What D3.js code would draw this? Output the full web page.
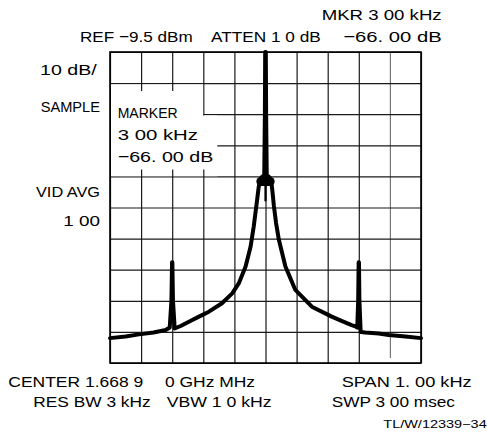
<!DOCTYPE html>
<html>
<head>
<meta charset="utf-8">
<script src="https://cdn.jsdelivr.net/npm/d3@7"></script>
<style>
  html, body { margin: 0; padding: 0; background: #fff; }
  svg { display: block; }
  text { font-family: "Liberation Sans", Arial, sans-serif; fill: #000; }
</style>
</head>
<body>
<script>
// ---- data ----
const gridHz = [-500, -400, -300, -200, -100, 0, 100, 200, 300, 400, 500];
const gridDb = [-100, -90, -80, -70, -60, -50, -40, -30, -20, -10, 0];

// spectrum trace: frequency offset from center (Hz) and level (dB rel. REF)
const traceHz = [-500, -450, -407, -360, -321, -308, -302.5, -300.5, -299.5, -297.5, -292, -273, -240, -214, -182, -140, -107, -86, -64, -48, -38, -27, -22, -18, -12, -4, -2, -1,
                 1, 2, 4, 12, 18, 22, 27, 34, 43, 64, 96, 149, 213, 250, 277, 289, 295, 298, 299.5, 300.5, 302, 306, 321, 364, 396, 450, 500];
const traceDb = [-92.0, -91.5, -90.8, -90.2, -89.4, -88.6, -80, -67.6, -67.6, -80, -88.9, -88.1, -86.4, -85.1, -83.5, -80.8, -77.6, -74.4, -69.0, -62.6, -56.2, -47.6, -43.5, -41.2, -40.2, -39.6, -20, 0,
                 0, -20, -39.6, -40.2, -41.2, -44.5, -49.5, -55, -60.4, -69.0, -76.5, -81.9, -85.1, -86.7, -87.8, -88.2, -88.6, -80, -67.6, -67.6, -80, -90.0, -90.2, -90.5, -91.0, -91.5, -92.0];

// carrier cap (blob on top of the skirt) and the short center prong
const carrierCapHz = [-15, 15];
const carrierCapDb = [-41.6, -41.6];
const carrierProngHz = [0, 0];
const carrierProngDb = [-41, -48];

// marker readout box corners (Hz, dB)
const markerBoxHz = [-500, -200, -155];
const markerBoxDb = [-10, -20, -40];
const markerStubHz = [-400, -300, -200];

// texts
const headerTexts = ["MKR 3 00 kHz", "REF \u22129.5 dBm", "ATTEN 1 0 dB", "\u221266. 00 dB"];
const leftTexts = ["10 dB/", "SAMPLE", "VID AVG", "1 00"];
const markerTexts = ["MARKER", "3 00 kHz", "\u221266. 00 dB"];
const footerTexts = ["CENTER 1.668 9", "0 GHz MHz", "SPAN 1. 00 kHz", "RES BW 3 kHz", "VBW 1 0 kHz", "SWP 3 00 msec"];
const figureId = "TL/W/12339\u221234";

// ---- drawing ----
const W = 487, H = 435;
const svg = d3.select("body").append("svg").attr("width", W).attr("height", H);
svg.append("rect").attr("width", W).attr("height", H).attr("fill", "#fff");

const x = d3.scaleLinear().domain([-500, 500]).range([110, 421]);
const y = d3.scaleLinear().domain([-100, 0]).range([363, 52]);
const plotW = x(500) - x(-500), plotH = y(-100) - y(0);

// grid via axes
const gx = svg.append("g").attr("transform", `translate(0,${y(-100)})`)
  .call(d3.axisBottom(x).tickValues(gridHz).tickSize(-plotH).tickFormat(""));
gx.select(".domain").remove();
gx.selectAll(".tick line").attr("stroke", "#1a1a1a").attr("stroke-width", 1.2);
gx.selectAll(".tick").filter(d => d === 400).select("line")
  .attr("stroke", "#777").attr("y1", -5);

const gy = svg.append("g").attr("transform", `translate(${x(-500)},0)`)
  .call(d3.axisLeft(y).tickValues(gridDb).tickSize(-plotW).tickFormat(""));
gy.select(".domain").remove();
gy.selectAll(".tick line").attr("stroke", "#1a1a1a").attr("stroke-width", 1.2);

// marker box blanking
const L = x(markerBoxHz[0]) + 1, R1 = x(markerBoxHz[1]) - 0.2, R2 = x(markerBoxHz[2]);
const T = y(markerBoxDb[0]) + 1.3, M = y(markerBoxDb[1]) + 1.3, B = y(markerBoxDb[2]) - 0.2;
svg.append("path")
  .attr("d", `M${L},${T}H${R1}V${M}H${R2}V${B}H${L}Z`)
  .attr("fill", "#fff");
// tick stubs of the interrupted grid lines
markerStubHz.forEach(hz => {
  if (hz !== -200) {
    svg.append("line").attr("x1", x(hz) + 0.5).attr("x2", x(hz) + 0.5)
      .attr("y1", y(markerBoxDb[0])).attr("y2", y(markerBoxDb[0]) + 8)
      .attr("stroke", "#1a1a1a").attr("stroke-width", 1.2);
  }
  svg.append("line").attr("x1", x(hz) + 0.5).attr("x2", x(hz) + 0.5)
    .attr("y1", y(markerBoxDb[2]) - 7).attr("y2", y(markerBoxDb[2]) + 0.5)
    .attr("stroke", "#1a1a1a").attr("stroke-width", 1.2);
});

// frame
svg.append("rect").attr("x", x(-500)).attr("y", y(0)).attr("width", plotW).attr("height", plotH)
  .attr("fill", "none").attr("stroke", "#000").attr("stroke-width", 1.6);

// trace
const line = d3.line().x(d => x(d[0])).y(d => y(d[1]));
svg.append("path")
  .attr("d", line(traceHz.map((h, i) => [h, traceDb[i]])))
  .attr("fill", "none").attr("stroke", "#000").attr("stroke-width", 4)
  .attr("stroke-linejoin", "round").attr("stroke-linecap", "round");
svg.append("path")
  .attr("d", line(carrierCapHz.map((h, i) => [h, carrierCapDb[i]])))
  .attr("fill", "none").attr("stroke", "#000").attr("stroke-width", 9)
  .attr("stroke-linecap", "round");
svg.append("path")
  .attr("d", line(carrierProngHz.map((h, i) => [h, carrierProngDb[i]])))
  .attr("fill", "none").attr("stroke", "#000").attr("stroke-width", 2.2);

// texts
function txt(str, x0, base, len, size) {
  const t = svg.append("text").attr("x", x0).attr("y", base)
    .attr("font-size", size || 15.5).text(str);
  if (len) t.attr("textLength", len).attr("lengthAdjust", "spacingAndGlyphs");
  return t;
}
txt(headerTexts[0], 321.7, 19.5, 120);
txt(headerTexts[1], 80, 41.7, 112.7);
txt(headerTexts[2], 211, 41.7, 109.7);
txt(headerTexts[3], 343.3, 41.7, 98.4);

txt(leftTexts[0], 40, 75, 56.7);
txt(leftTexts[1], 40.7, 112.3, 59.3);
txt(leftTexts[2], 36, 197.3, 64);
txt(leftTexts[3], 63.3, 225.7, 36.7);

txt(markerTexts[0], 117.7, 117.5, 60);
txt(markerTexts[1], 117.7, 139.8, 80.3);
txt(markerTexts[2], 117.7, 161.5, 95.6);

txt(footerTexts[0], 8.3, 386.7, 135);
txt(footerTexts[1], 165, 386.7, 90);
txt(footerTexts[2], 341.7, 386.7, 130);
txt(footerTexts[3], 33.3, 406.7, 117.4);
txt(footerTexts[4], 166.7, 406.7, 105);
txt(footerTexts[5], 331.7, 406.7, 123.3);

txt(figureId, 383.3, 428.3, 103.4, 11);
</script>
</body>
</html>
